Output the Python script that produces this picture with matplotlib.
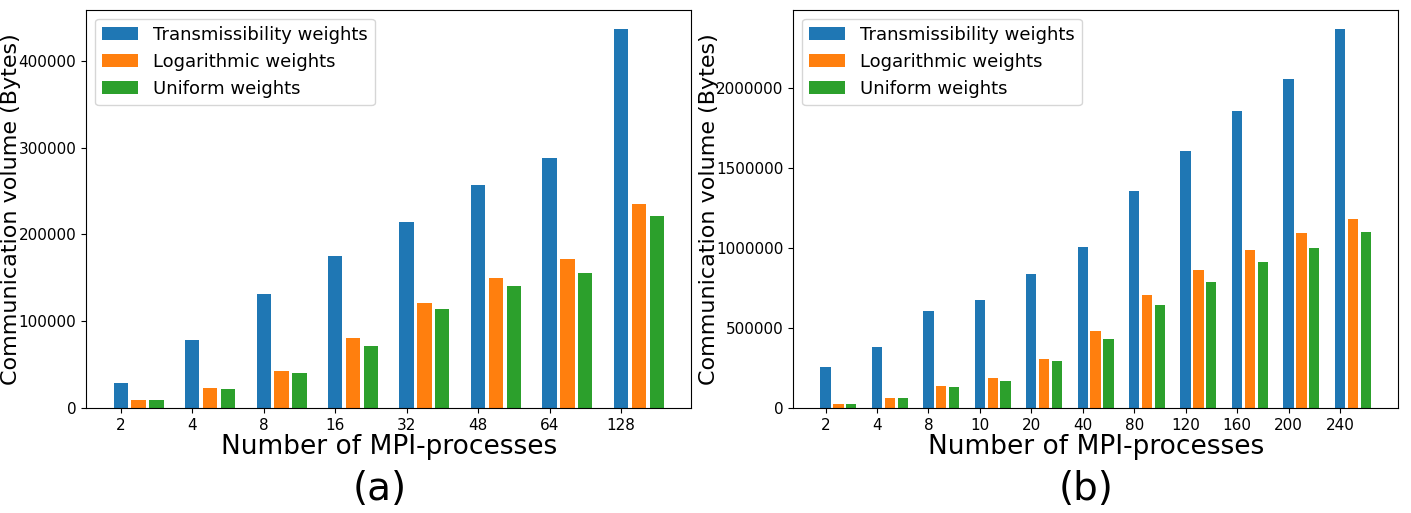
import matplotlib.pyplot as plt
import numpy as np

# panel (a)
procs_a = ['2', '4', '8', '16', '32', '48', '64', '128']
trans_a = [28500, 78200, 131800, 175000, 213900, 257000, 287900, 437400]
log_a = [8500, 22700, 42400, 80200, 121400, 149900, 171900, 234700]
unif_a = [8500, 22000, 40500, 71700, 114100, 141000, 156100, 220800]

# panel (b)
procs_b = ['2', '4', '8', '10', '20', '40', '80', '120', '160', '200', '240']
trans_b = [257000, 378600, 604600, 673600, 841000, 1010000, 1355600, 1608800, 1859800, 2056500, 2374500]
log_b = [27000, 58600, 134000, 184000, 307500, 483300, 705000, 866100, 987400, 1096200, 1182000]
unif_b = [27000, 60700, 127600, 169500, 290800, 428900, 644400, 786600, 914200, 1002100, 1098300]

labels = ['Transmissibility weights', 'Logarithmic weights', 'Uniform weights']

fig = plt.figure(figsize=(14.11, 5.13), dpi=100)
ax1 = fig.add_axes([0.061, 0.205, 0.429, 0.776])
ax2 = fig.add_axes([0.562, 0.205, 0.429, 0.776])


def draw(ax, procs, series, caption, ylab_x):
    x = np.arange(len(procs))
    w = 0.2
    for k, (vals, lab) in enumerate(zip(series, labels)):
        ax.bar(x + k * 0.25, vals, w, label=lab)
    ax.set_xticks(x)
    ax.set_xticklabels(procs)
    ax.tick_params(labelsize=11)
    ax.ticklabel_format(axis='y', style='plain')
    ax.set_xlabel('Number of MPI-processes', fontsize=19, labelpad=1)
    ax.set_ylabel('Communication volume (Bytes)', fontsize=16)
    ax.yaxis.set_label_coords(ylab_x, 0.5)
    ax.legend(loc='upper left', fontsize=13)
    ax.text(0.485, -0.205, caption, transform=ax.transAxes, ha='center', va='center',
            fontsize=28)


draw(ax1, procs_a, [trans_a, log_a, unif_a], '(a)', -0.107)
draw(ax2, procs_b, [trans_b, log_b, unif_b], '(b)', -0.122)

plt.savefig('out.png', dpi=100)
